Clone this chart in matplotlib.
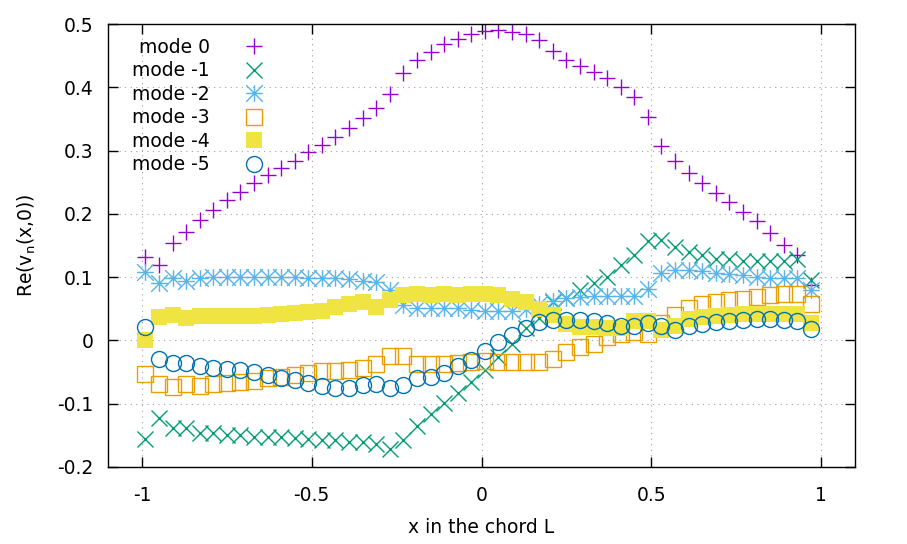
import numpy as np
import matplotlib
matplotlib.use("Agg")
import matplotlib.pyplot as plt
from matplotlib.path import Path
from matplotlib.ticker import FuncFormatter

# gnuplot default colours
PURPLE = "#9400d3"
GREEN = "#009e73"
SKY = "#56b4e9"
ORANGE = "#e69f00"
YELLOW = "#f0e442"
BLUE = "#0072b2"

plt.rcParams.update({
    "font.family": "DejaVu Sans",
    "font.size": 13.5,
    "axes.unicode_minus": False,
    "axes.linewidth": 1.0,
})

# ---------------------------------------------------------------------------
# data
# ---------------------------------------------------------------------------
X = [-0.99, -0.95, -0.91, -0.87, -0.83, -0.79, -0.75, -0.71, -0.67, -0.63,
     -0.59, -0.55, -0.51, -0.47, -0.43, -0.39, -0.35, -0.31, -0.27, -0.23,
     -0.19, -0.15, -0.11, -0.07, -0.03, 0.01, 0.05, 0.09, 0.13, 0.17,
     0.21, 0.25, 0.29, 0.33, 0.37, 0.41, 0.45, 0.49, 0.53, 0.57,
     0.61, 0.65, 0.69, 0.73, 0.77, 0.81, 0.85, 0.89, 0.93, 0.97]

mode_0 = [0.132, 0.119, 0.154, 0.171, 0.190, 0.206, 0.222, 0.234, 0.249, 0.262,
          0.272, 0.283, 0.297, 0.309, 0.322, 0.336, 0.351, 0.367, 0.390, 0.423,
          0.443, 0.455, 0.468, 0.476, 0.484, 0.489, 0.490, 0.488, 0.484, 0.474,
          0.458, 0.443, 0.434, 0.424, 0.414, 0.400, 0.384, 0.353, 0.308, 0.284,
          0.264, 0.248, 0.233, 0.218, 0.203, 0.188, 0.169, 0.151, 0.135, 0.088]

mode_m1 = [-0.156, -0.122, -0.138, -0.138, -0.146, -0.147, -0.149, -0.149, -0.152, -0.152,
           -0.153, -0.154, -0.156, -0.157, -0.157, -0.160, -0.160, -0.164, -0.171, -0.157,
           -0.136, -0.117, -0.099, -0.083, -0.065, -0.047, -0.026, -0.006, 0.019, 0.035,
           0.061, 0.067, 0.080, 0.090, 0.101, 0.119, 0.135, 0.157, 0.159, 0.147,
           0.140, 0.135, 0.128, 0.128, 0.126, 0.126, 0.126, 0.126, 0.128, 0.096]

mode_m2 = [0.108, 0.090, 0.098, 0.094, 0.098, 0.100, 0.101, 0.101, 0.101, 0.100,
           0.101, 0.100, 0.098, 0.099, 0.098, 0.097, 0.094, 0.093, 0.080, 0.056,
           0.051, 0.051, 0.051, 0.051, 0.048, 0.047, 0.047, 0.046, 0.050, 0.058,
           0.062, 0.067, 0.069, 0.070, 0.070, 0.070, 0.070, 0.082, 0.107, 0.111,
           0.111, 0.110, 0.107, 0.105, 0.103, 0.100, 0.098, 0.098, 0.098, 0.080]

mode_m3 = [-0.053, -0.069, -0.074, -0.069, -0.072, -0.069, -0.068, -0.065, -0.064, -0.060,
           -0.058, -0.055, -0.052, -0.049, -0.048, -0.046, -0.044, -0.037, -0.025, -0.025,
           -0.037, -0.037, -0.037, -0.035, -0.034, -0.032, -0.034, -0.034, -0.034, -0.034,
           -0.030, -0.019, -0.011, -0.005, 0.005, 0.010, 0.014, 0.010, 0.028, 0.040,
           0.051, 0.057, 0.061, 0.064, 0.066, 0.069, 0.071, 0.073, 0.074, 0.058]

mode_m4 = [0.000, 0.037, 0.040, 0.036, 0.038, 0.038, 0.039, 0.039, 0.039, 0.040,
           0.042, 0.044, 0.045, 0.047, 0.053, 0.058, 0.060, 0.053, 0.064, 0.072,
           0.074, 0.072, 0.073, 0.072, 0.074, 0.074, 0.071, 0.066, 0.060, 0.050,
           0.040, 0.026, 0.021, 0.021, 0.020, 0.020, 0.031, 0.030, 0.017, 0.023,
           0.034, 0.037, 0.039, 0.040, 0.042, 0.042, 0.042, 0.042, 0.042, 0.027]

mode_m5 = [0.021, -0.029, -0.035, -0.035, -0.040, -0.043, -0.045, -0.047, -0.050, -0.055,
           -0.059, -0.063, -0.067, -0.072, -0.075, -0.075, -0.070, -0.069, -0.075, -0.070,
           -0.060, -0.057, -0.051, -0.041, -0.031, -0.017, -0.003, 0.009, 0.019, 0.029,
           0.032, 0.032, 0.032, 0.031, 0.028, 0.023, 0.023, 0.027, 0.023, 0.017,
           0.023, 0.026, 0.029, 0.031, 0.033, 0.034, 0.034, 0.032, 0.030, 0.018]

X_TICKS = [-1, -0.5, 0, 0.5, 1]
Y_TICKS = [-0.2, -0.1, 0, 0.1, 0.2, 0.3, 0.4, 0.5]

# gnuplot's asterisk: a plus and a cross on top of each other
ASTERISK = Path(
    [(-1, 0), (1, 0), (0, -1), (0, 1), (-1, -1), (1, 1), (-1, 1), (1, -1)],
    [Path.MOVETO, Path.LINETO] * 4,
)

fig = plt.figure(figsize=(9.07, 5.44), dpi=100)
ax = fig.add_axes([108 / 907, 1 - 467 / 544, 747 / 907, 443 / 544])

ax.plot(X, mode_0, ls="none", marker="+", ms=11, mew=1.0, color=PURPLE, label="mode 0")
ax.plot(X, mode_m1, ls="none", marker="x", ms=11, mew=1.0, color=GREEN, label="mode -1")
ax.plot(X, mode_m2, ls="none", marker=ASTERISK, ms=12, mew=1.0, color=SKY, label="mode -2")
ax.plot(X, mode_m3, ls="none", marker="s", ms=11, mew=1.0, mfc="none", mec=ORANGE, label="mode -3")
ax.plot(X, mode_m4, ls="none", marker="s", ms=12, mew=0, color=YELLOW, label="mode -4")
ax.plot(X, mode_m5, ls="none", marker="o", ms=11.5, mew=1.0, mfc="none", mec=BLUE, label="mode -5")

ax.set_xlim(-1.1, 1.1)
ax.set_ylim(-0.2, 0.5)
ax.set_xticks(X_TICKS)
ax.set_yticks(Y_TICKS)
fmt = FuncFormatter(lambda v, _: "%g" % round(v, 3))
ax.xaxis.set_major_formatter(fmt)
ax.yaxis.set_major_formatter(fmt)
ax.tick_params(direction="in", length=7, width=1.0, top=True, right=True, colors="black")
ax.tick_params(axis="x", pad=14)
ax.tick_params(axis="y", pad=10.5)
ax.grid(True, color="#a0a0a0", linestyle=(0, (1, 4)), linewidth=0.8)
ax.set_axisbelow(True)

ax.set_xlabel("x in the chord L", labelpad=9)
ax.set_ylabel(r"Re(v$_\mathregular{n}$(x,0))", labelpad=14)

ax.legend(loc="upper left", bbox_to_anchor=(0.022, 0.9855), borderaxespad=0,
          frameon=False, markerfirst=False, handlelength=1.0, handletextpad=1.85,
          labelspacing=0.24, fontsize=13.5)

fig.savefig("out.png", dpi=100)
